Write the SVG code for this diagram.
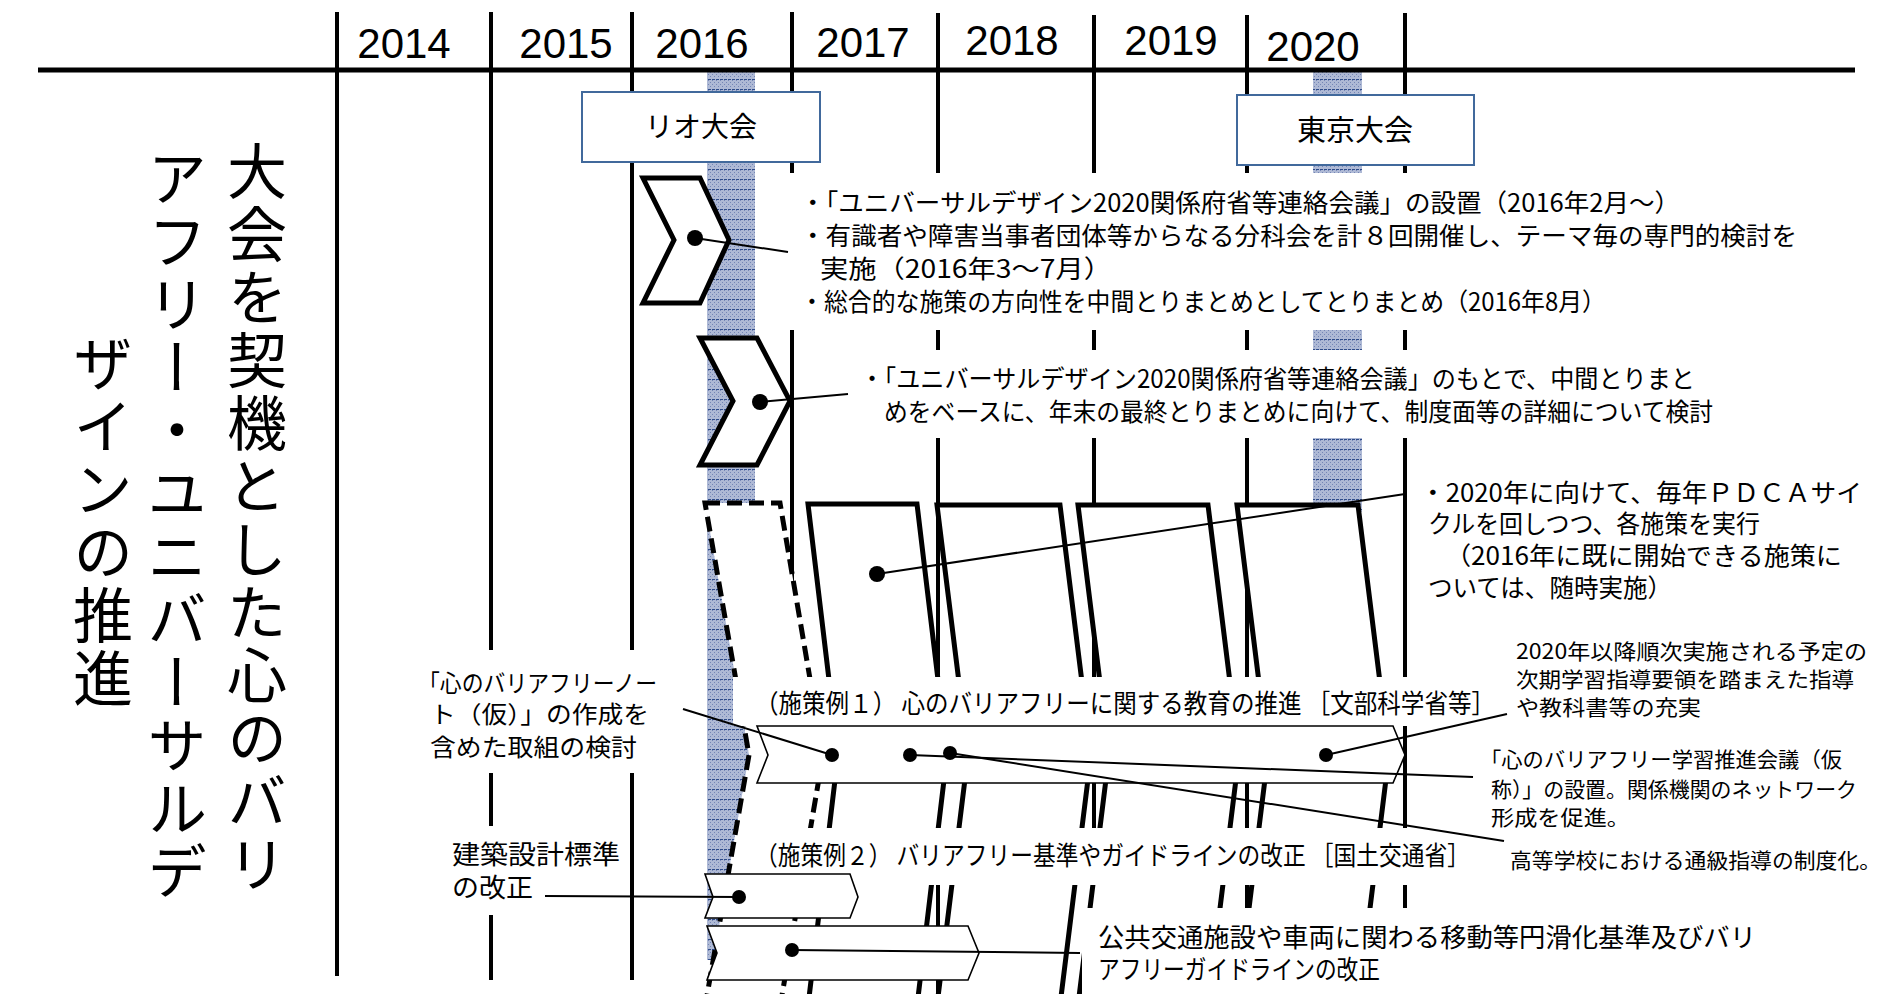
<svg xmlns="http://www.w3.org/2000/svg" width="1881" height="994" viewBox="0 0 1881 994">
<defs>
<pattern id="hatch" width="4" height="10" patternUnits="userSpaceOnUse">
<rect width="4" height="10" fill="#aeb9d5"/>
<rect x="0" y="0" width="1" height="1" fill="#7586b5"/>
<rect x="2" y="2" width="1" height="1" fill="#7586b5"/>
<rect x="0" y="4" width="1" height="1" fill="#7586b5"/>
<rect x="2" y="6" width="1" height="1" fill="#7586b5"/>
<rect x="0" y="9" width="3" height="1" fill="#2f4c8a"/>
</pattern>
<style>
.yr{font-family:"Liberation Sans",Arial,sans-serif;font-size:42px;fill:#000;text-anchor:middle}
.jp{font-family:"Noto Sans CJK JP","Noto Sans",sans-serif;fill:#000}
.grid{stroke:#000;stroke-width:4;fill:none}
.cover{fill:#fff;stroke:none}
.chev{fill:#fff;stroke:#000;stroke-width:5;stroke-linejoin:miter}
.bar{fill:#fff;stroke:#000;stroke-width:1.6}
.conn{stroke:#000;stroke-width:2;fill:none}
.dot{fill:#000}
.ev{fill:#fff;stroke:#41699c;stroke-width:2}
</style>
</defs>
<rect width="1881" height="994" fill="#fff"/>

<g id="bands">
<rect x="707" y="72" width="48" height="888" fill="url(#hatch)"/>
<rect x="1313" y="72" width="49" height="440" fill="url(#hatch)"/>
</g>

<g id="grid">
<line class="grid" x1="38" y1="70" x2="1855" y2="70" style="stroke-width:5"/>
<line class="grid" x1="337" y1="12" x2="337" y2="976"/>
<line class="grid" x1="491" y1="12" x2="491" y2="980"/>
<line class="grid" x1="632" y1="12" x2="632" y2="980"/>
<line class="grid" x1="792" y1="12" x2="792" y2="600"/>
<line class="grid" x1="938" y1="13" x2="938" y2="994"/>
<line class="grid" x1="1094" y1="15" x2="1094" y2="994"/>
<line class="grid" x1="1247" y1="15" x2="1247" y2="994"/>
<line class="grid" x1="1405" y1="13" x2="1405" y2="994"/>
<text class="yr" x="404" y="58">2014</text>
<text class="yr" x="566" y="58">2015</text>
<text class="yr" x="702" y="58">2016</text>
<text class="yr" x="863" y="57">2017</text>
<text class="yr" x="1012" y="55">2018</text>
<text class="yr" x="1171" y="55">2019</text>
<text class="yr" x="1313" y="61">2020</text>
</g>

<g id="node-title" class="jp" font-size="60" letter-spacing="3">
<text x="257" y="141" style="writing-mode:vertical-rl">大会を契機とした心のバリ</text>
<text x="177" y="148" style="writing-mode:vertical-rl">アフリー・ユニバーサルデ</text>
<text x="103" y="333" style="writing-mode:vertical-rl">ザインの推進</text>
</g>

<g id="node-pdca">
<polygon class="chev" points="705,503 780,503 823,755 780,1007 705,1007 749,755" stroke-dasharray="15 7"/>
<polygon class="chev" points="808,504 917,504 947,755 917,1006 808,1006 838,755"/>
<polygon class="chev" points="937,505 1060,505 1091,755 1060,1005 937,1005 968,755"/>
<polygon class="chev" points="1078,505 1208,505 1239,755 1208,1005 1078,1005 1109,755"/>
<polygon class="chev" points="1237,505 1358,505 1389,755 1358,1005 1237,1005 1268,755"/>
</g>

<g id="node-rio">
<rect class="ev" x="582" y="92" width="238" height="70"/>
<text class="jp" x="701" y="137" font-size="28" text-anchor="middle">リオ大会</text>
</g>
<g id="node-tokyo">
<rect class="ev" x="1237" y="95" width="237" height="70"/>
<text class="jp" x="1355" y="141" font-size="29" text-anchor="middle">東京大会</text>
</g>

<g id="node-text1" class="jp" font-size="25">
<rect class="cover" x="788" y="173" width="1022" height="157"/>
<text x="800" y="212" textLength="880" lengthAdjust="spacingAndGlyphs">・「ユニバーサルデザイン2020関係府省等連絡会議」の設置（2016年2月～）</text>
<text x="800" y="245" textLength="997" lengthAdjust="spacingAndGlyphs">・有識者や障害当事者団体等からなる分科会を計８回開催し、テーマ毎の専門的検討を</text>
<text x="820" y="278" textLength="292" lengthAdjust="spacingAndGlyphs">実施（2016年3～7月）</text>
<text x="800" y="311" textLength="806" lengthAdjust="spacingAndGlyphs">・総合的な施策の方向性を中間とりまとめとしてとりまとめ（2016年8月）</text>
</g>

<g id="node-text2" class="jp" font-size="25">
<rect class="cover" x="860" y="350" width="870" height="88"/>
<text x="860" y="388" textLength="835" lengthAdjust="spacingAndGlyphs">・「ユニバーサルデザイン2020関係府省等連絡会議」のもとで、中間とりまと</text>
<text x="884" y="421" textLength="829" lengthAdjust="spacingAndGlyphs">めをベースに、年末の最終とりまとめに向けて、制度面等の詳細について検討</text>
</g>

<g id="node-text3" class="jp" font-size="25">
<text x="1420" y="502" textLength="442" lengthAdjust="spacingAndGlyphs">・2020年に向けて、毎年ＰＤＣＡサイ</text>
<text x="1428" y="533" textLength="332" lengthAdjust="spacingAndGlyphs">クルを回しつつ、各施策を実行</text>
<text x="1445" y="565" textLength="397" lengthAdjust="spacingAndGlyphs">（2016年に既に開始できる施策に</text>
<text x="1428" y="597" textLength="244" lengthAdjust="spacingAndGlyphs">ついては、随時実施）</text>
</g>

<g id="node-label1" class="jp" font-size="26">
<rect class="cover" x="733" y="677" width="767" height="49"/>
<text x="755" y="713" textLength="740" lengthAdjust="spacingAndGlyphs">（施策例１） 心のバリアフリーに関する教育の推進 ［文部科学省等］</text>
</g>

<g id="node-label2" class="jp" font-size="26">
<rect class="cover" x="745" y="828" width="725" height="57"/>
<text x="755" y="865" textLength="715" lengthAdjust="spacingAndGlyphs">（施策例２） バリアフリー基準やガイドラインの改正 ［国土交通省］</text>
</g>

<g id="node-note" class="jp" font-size="24">
<rect class="cover" x="425" y="650" width="230" height="123"/>
<text x="418" y="692" textLength="239" lengthAdjust="spacingAndGlyphs">「心のバリアフリーノー</text>
<text x="430" y="723" textLength="219" lengthAdjust="spacingAndGlyphs">ト（仮）」の作成を</text>
<text x="430" y="756" textLength="207" lengthAdjust="spacingAndGlyphs">含めた取組の検討</text>
</g>

<g id="node-kenchiku" class="jp" font-size="26">
<rect class="cover" x="445" y="826" width="180" height="89"/>
<text x="452" y="864" textLength="168" lengthAdjust="spacingAndGlyphs">建築設計標準</text>
<text x="452" y="897" textLength="81" lengthAdjust="spacingAndGlyphs">の改正</text>
</g>

<g id="node-koukyou" class="jp" font-size="26">
<rect class="cover" x="1082" y="908" width="720" height="86"/>
<text x="1098" y="947" textLength="658" lengthAdjust="spacingAndGlyphs">公共交通施設や車両に関わる移動等円滑化基準及びバリ</text>
<text x="1098" y="979" textLength="282" lengthAdjust="spacingAndGlyphs">アフリーガイドラインの改正</text>
</g>

<g id="node-text4" class="jp" font-size="21">
<text x="1516" y="659" textLength="351" lengthAdjust="spacingAndGlyphs">2020年以降順次実施される予定の</text>
<text x="1516" y="687" textLength="338" lengthAdjust="spacingAndGlyphs">次期学習指導要領を踏まえた指導</text>
<text x="1516" y="715" textLength="185" lengthAdjust="spacingAndGlyphs">や教科書等の充実</text>
</g>

<g id="node-text5" class="jp" font-size="21">
<text x="1480" y="767" textLength="362" lengthAdjust="spacingAndGlyphs">「心のバリアフリー学習推進会議（仮</text>
<text x="1491" y="797" textLength="366" lengthAdjust="spacingAndGlyphs">称）」の設置。関係機関のネットワーク</text>
<text x="1491" y="825" textLength="139" lengthAdjust="spacingAndGlyphs">形成を促進。</text>
</g>

<g id="node-text6" class="jp" font-size="21">
<text x="1510" y="868" textLength="371" lengthAdjust="spacingAndGlyphs">高等学校における通級指導の制度化。</text>
</g>

<g id="node-step1">
<polygon class="chev" points="643,178 700,178 729,240 700,303 643,303 674,240"/>
</g>
<g id="node-step2">
<polygon class="chev" points="700,338 757,338 790,401 757,465 700,465 733,401"/>
</g>

<g id="node-bar1">
<polygon class="bar" points="757,726 1393,726 1405,755 1393,783 757,783 768,755"/>
</g>
<g id="node-bar2a">
<polygon class="bar" points="705,874 850,874 858,897 850,918 705,918 713,897"/>
</g>
<g id="node-bar2b">
<polygon class="bar" points="707,926 968,926 979,953 968,980 707,980 717,953"/>
</g>

<g id="connectors">
<line class="conn" x1="695" y1="238" x2="788" y2="252"/>
<line class="conn" x1="760" y1="402" x2="848" y2="394"/>
<line class="conn" x1="877" y1="574" x2="1405" y2="494"/>
<line class="conn" x1="683" y1="709" x2="832" y2="755"/>
<line class="conn" x1="910" y1="755" x2="1473" y2="777"/>
<line class="conn" x1="950" y1="753" x2="1504" y2="841"/>
<line class="conn" x1="1326" y1="755" x2="1507" y2="714"/>
<line class="conn" x1="545" y1="896" x2="739" y2="897"/>
<line class="conn" x1="792" y1="950" x2="1080" y2="953"/>
<circle class="dot" cx="695" cy="238" r="8"/>
<circle class="dot" cx="760" cy="402" r="8"/>
<circle class="dot" cx="877" cy="574" r="8"/>
<circle class="dot" cx="832" cy="755" r="7"/>
<circle class="dot" cx="910" cy="755" r="7"/>
<circle class="dot" cx="950" cy="753" r="7"/>
<circle class="dot" cx="1326" cy="755" r="7"/>
<circle class="dot" cx="739" cy="897" r="7"/>
<circle class="dot" cx="792" cy="950" r="7"/>
</g>
</svg>
